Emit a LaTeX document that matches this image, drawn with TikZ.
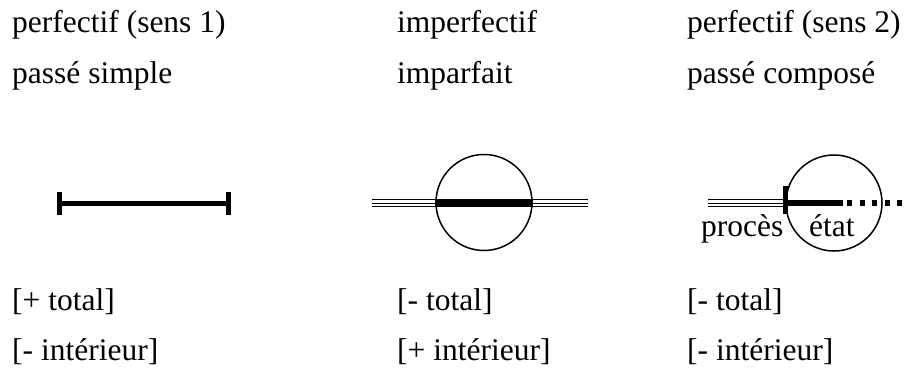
\documentclass[tikz,border=0pt]{standalone}
\usepackage{fontspec}
\setmainfont{Liberation Serif}
\usetikzlibrary{positioning}

\begin{document}
\begin{tikzpicture}[
    x=1pt, y=-1pt,
    txt/.style={anchor=base west, inner sep=0pt, font=\fontsize{31.5}{33}\selectfont},
    bar/.style={line width=5pt},
    rail/.style={line width=1pt},
    ring/.style={circle, draw, line width=1.5pt, minimum size=96pt, inner sep=0pt}
]
\useasboundingbox (0,0) rectangle (904,374);

% titles
\node[txt] (perf1) at (12,33) {perfectif (sens 1)};
\node[txt] (psimple) at (12,84) {passé simple};
\node[txt] (imperf) at (397,33) {imperfectif};
\node[txt] (imparf) at (397,84) {imparfait};
\node[txt] (perf2) at (687,33) {perfectif (sens 2)};
\node[txt] (pcompose) at (687,84) {passé composé};

% features
\node[txt] (tot1) at (12,310) {[+ total]};
\node[txt] (int1) at (12,360) {[- intérieur]};
\node[txt] (tot2) at (397,310) {[- total]};
\node[txt] (int2) at (397,360) {[+ intérieur]};
\node[txt] (tot3) at (687,310) {[- total]};
\node[txt] (int3) at (687,360) {[- intérieur]};

% perfectif 1
\coordinate (a1) at (59,203);
\coordinate (a2) at (228,203);
\draw[bar] (a1) -- (a2);
\draw[bar] ([yshift=-11.5pt]a1) -- ([yshift=11.5pt]a1);
\draw[bar] ([yshift=-11.5pt]a2) -- ([yshift=11.5pt]a2);

% imperfectif
\node[ring] (ringB) at (484,202.5) {};
\foreach \dy in {-3.3,0,3.3}
  \draw[rail] (372,203+\dy) -- (588,203+\dy);
\draw[line width=6.5pt] (ringB.west |- 0,203) -- (ringB.east |- 0,203);

% perfectif 2
\node[ring] (ringC) at (834,203) {};
\coordinate (c1) at (708,203);
\coordinate (c2) at (785,203);
\coordinate (c3) at (842.5,203);
\foreach \dy in {-3.3,0,3.3}
  \draw[rail] ([yshift=\dy pt]c1) -- ([yshift=\dy pt]c2);
\draw[bar] ([yshift=-11pt]c2) -- ([yshift=17pt]c2);
\draw[line width=5.5pt] (c2) -- (c3);
\draw[line width=5.5pt, dash pattern=on 5pt off 7.5pt] ([xshift=4.5pt]c3) -- (904,203);
\node[txt] (proces) at (701,236) {procès};
\node[txt] (etat) at (809,236) {état};
\end{tikzpicture}
\end{document}
